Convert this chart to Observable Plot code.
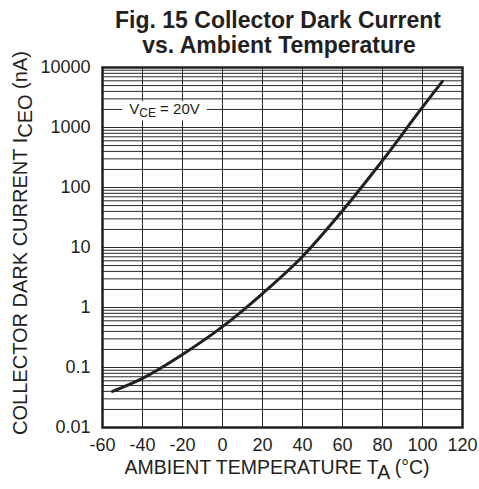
<!DOCTYPE html>
<html><head><meta charset="utf-8">
<script src="https://cdn.jsdelivr.net/npm/d3@7"></script>
<script src="https://cdn.jsdelivr.net/npm/@observablehq/plot@0.6"></script>
<style>body{margin:0;background:#fff} svg{display:block}</style>
</head><body><div id="chart"></div>
<script>
const temps = [-55, -40, -20, 0, 20, 40, 60, 80, 100, 110];
const currents = [0.04, 0.066, 0.165, 0.48, 1.71, 7.1, 41, 282, 2180, 5900];
const xTicks = [-60, -40, -20, 0, 20, 40, 60, 80, 100, 120];
const yTicks = [0.01, 0.1, 1, 10, 100, 1000, 10000];
const yTickLabels = ["0.01", "0.1", "1", "10", "100", "1000", "10000"];
const minorMultipliers = [1, 2, 3, 4, 5, 6, 7, 8, 9];
const annotation = [{t: -29, i: 2000, label: "VCE = 20V"}];

const data = temps.map((t, k) => ({t, i: currents[k]}));
const yGrid = [];
for (let e = -2; e <= 3; e++) for (const m of minorMultipliers) yGrid.push(+(m * 10 ** e).toPrecision(3));
yGrid.push(10000);

const ink = "#231f20";
const font = "'Liberation Sans', Arial, Helvetica, sans-serif";

const svg = Plot.plot({
  width: 479, height: 489,
  marginLeft: 102, marginRight: 17, marginTop: 67, marginBottom: 62,
  style: {fontFamily: font, fontSize: "18px", color: ink, background: "#fff"},
  x: {domain: [-60, 120]},
  y: {type: "log", domain: [0.01, 10000]},
  marks: [
    Plot.ruleY(yGrid, {stroke: "#2a2a2a", strokeWidth: 1}),
    Plot.ruleX(xTicks, {stroke: "#2a2a2a", strokeWidth: 1}),
    Plot.line(data, {x: "t", y: "i", curve: "monotone-x", stroke: ink, strokeWidth: 3}),
    Plot.text(annotation, {x: "t", y: "i", text: "label", fontSize: 15, fill: ink}),
    Plot.frame({stroke: ink, strokeWidth: 2.5}),
    Plot.axisX({ticks: xTicks, tickSize: 0, tickPadding: 11, label: null, tickFormat: d => String(d)}),
    Plot.axisY({ticks: yTicks, tickSize: 0, tickPadding: 12, label: null, tickFormat: d => yTickLabels[yTicks.indexOf(d)]})
  ]
});
document.getElementById("chart").appendChild(svg);

const s = d3.select(svg);
// annotation with subscript and white background
s.selectAll("text").filter(function() { return this.textContent === "VCE = 20V"; }).each(function() {
  const t = d3.select(this);
  t.text("");
  t.append("tspan").text("V");
  t.append("tspan").attr("font-size", 12).attr("dy", 3).text("CE");
  t.append("tspan").attr("dy", -3).text(" = 20V");
  const b = this.getBBox();
  const r = document.createElementNS("http://www.w3.org/2000/svg", "rect");
  this.parentNode.insertBefore(r, this);
  d3.select(r).attr("x", b.x - 7).attr("y", b.y + 1).attr("width", b.width + 14).attr("height", b.height - 1)
    .attr("fill", "#fff").attr("transform", this.getAttribute("transform"));
});

// titles
const title = s.append("g").attr("font-family", font).attr("font-weight", "bold").attr("font-size", 23)
  .attr("fill", ink).attr("text-anchor", "middle");
title.append("text").attr("x", 278).attr("y", 28).text("Fig. 15 Collector Dark Current");
title.append("text").attr("x", 279).attr("y", 53).text("vs. Ambient Temperature");

// x label
const xl = s.append("text").attr("font-family", font).attr("font-size", 19.5).attr("fill", ink)
  .attr("text-anchor", "middle").attr("x", 277).attr("y", 474);
xl.append("tspan").text("AMBIENT TEMPERATURE T");
xl.append("tspan").attr("dy", 5).text("A");
xl.append("tspan").attr("dy", -5).text(" (°C)");

// y label
const yl = s.append("text").attr("font-family", font).attr("font-size", 20).attr("fill", ink)
  .attr("text-anchor", "middle").attr("transform", "translate(27,243) rotate(-90)");
yl.append("tspan").text("COLLECTOR DARK CURRENT I");
yl.append("tspan").attr("dy", 5).text("CEO");
yl.append("tspan").attr("dy", -5).text(" (nA)");
</script>
</body></html>
